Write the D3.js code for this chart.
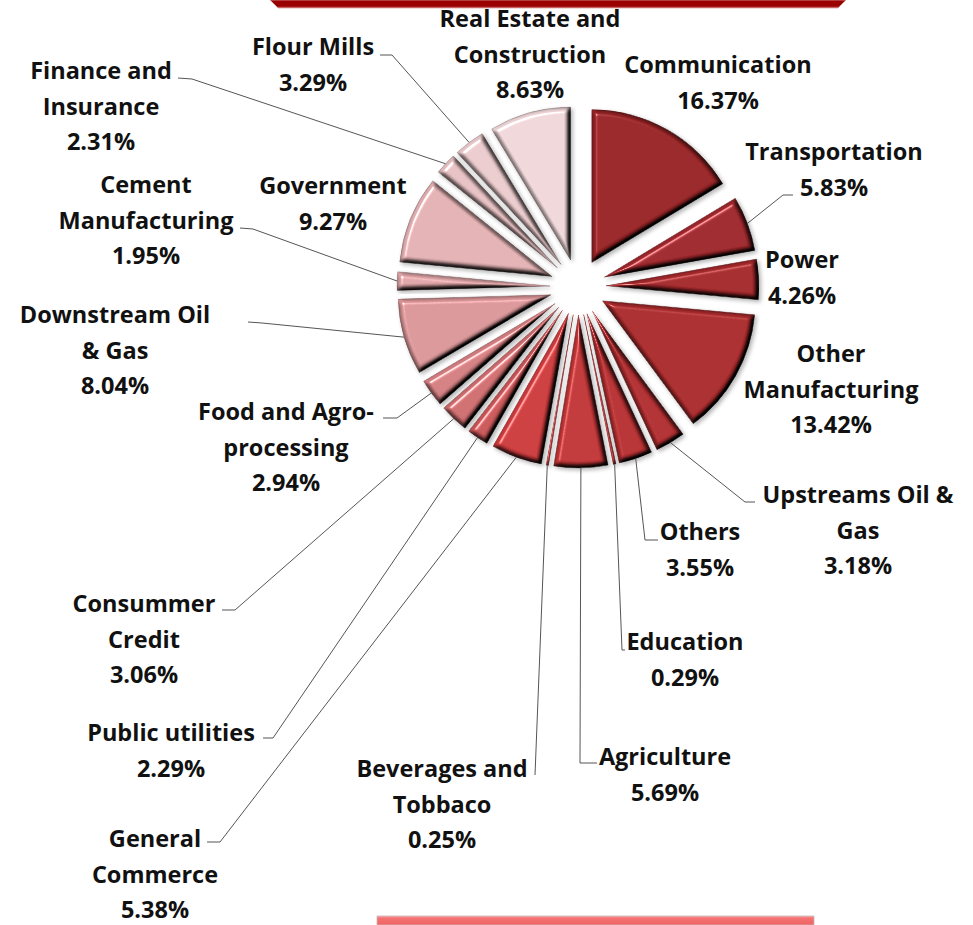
<!DOCTYPE html>
<html><head><meta charset="utf-8">
<script src="https://cdn.jsdelivr.net/npm/d3@7"></script>
<style>body{margin:0;background:#fff;overflow:hidden}</style>
</head><body>
<svg id="chart" width="973" height="925"></svg>
<script>
// ---- data ----
const categories = ["Communication","Transportation","Power","Other Manufacturing","Upstreams Oil & Gas","Others","Education","Agriculture","Beverages and Tobbaco","General Commerce","Public utilities","Consummer Credit","Food and Agro-processing","Downstream Oil & Gas","Cement Manufacturing","Government","Finance and Insurance","Flour Mills","Real Estate and Construction"];
const values = [16.37,5.83,4.26,13.42,3.18,3.55,0.29,5.69,0.25,5.38,2.29,3.06,2.94,8.04,1.95,9.27,2.31,3.29,8.63];
const labelLines = [["Communication"],["Transportation"],["Power"],["Other","Manufacturing"],["Upstreams Oil &","Gas"],["Others"],["Education"],["Agriculture"],["Beverages and","Tobbaco"],["General","Commerce"],["Public utilities"],["Consummer","Credit"],["Food and Agro-","processing"],["Downstream Oil","& Gas"],["Cement","Manufacturing"],["Government"],["Finance and","Insurance"],["Flour Mills"],["Real Estate and","Construction"]];

// ---- style / layout (kept apart from data) ----
const palette = ["#922224","#98252a","#9e272a","#a4292b","#ab2c2e","#b02e30","#b43032","#ba3335","#bf3638","#c5393b","#c35456","#c86a6c","#cc7a7c","#d39193","#d8a0a2","#dbabad","#e0bbbd","#e4c5c7","#e8d0d2"];
// label anchor: [centerX, firstBaselineY]
const labelPos = [[718,73],[834,160],[802,268],[831,362],[858,503],[700,540],[685,650],[665,765],[442,777],[155,847],[171,741],[144,612],[286,420],[115,323],[146,193],[333,194],[101,79],[313,55],[530,27]];
// leader: [elbowX, elbowY, endX, endY] or null
const leaders = [null,[783,195,793,195],null,null,[745,502,755,502],[645,540,658,540],[622,650,625,650],[580,763,597,763],[535,775,535,775],[220,842,207,842],[273,738,263,738],[235,610,222,610],[397,418,383,418],[262,323,248,322],[253,229,240,228],null,[192,79,178,78],[392,55,380,55],null];

const W = 973, H = 925;
const cx = 578, cy = 287, R = 153, explode = 28, lineH = 35.5;

const svg = d3.select("#chart");
const defs = svg.append("defs");

// bevel filter
const f = defs.append("filter").attr("id","bevel").attr("x","-15%").attr("y","-15%").attr("width","130%").attr("height","130%").attr("color-interpolation-filters","sRGB");
f.append("feGaussianBlur").attr("in","SourceAlpha").attr("stdDeviation",2.8).attr("result","blur");
const dl = f.append("feDiffuseLighting").attr("in","blur").attr("surfaceScale",7).attr("diffuseConstant",1.16).attr("lighting-color","#fff").attr("result","diff");
dl.append("feDistantLight").attr("azimuth",225).attr("elevation",60);
f.append("feComposite").attr("in","SourceGraphic").attr("in2","diff").attr("operator","arithmetic").attr("k1",1).attr("k2",0).attr("k3",0).attr("k4",0).attr("result","shaded");
const sl = f.append("feSpecularLighting").attr("in","blur").attr("surfaceScale",7).attr("specularConstant",0.55).attr("specularExponent",35).attr("lighting-color","#fff").attr("result","spec");
sl.append("feDistantLight").attr("azimuth",225).attr("elevation",45);
f.append("feComposite").attr("in","spec").attr("in2","SourceAlpha").attr("operator","in").attr("result","specIn");
f.append("feComposite").attr("in","shaded").attr("in2","specIn").attr("operator","arithmetic").attr("k1",0).attr("k2",1).attr("k3",1).attr("k4",0).attr("result","lit");
f.append("feComposite").attr("in","lit").attr("in2","SourceAlpha").attr("operator","in").attr("result","final");
f.append("feGaussianBlur").attr("in","SourceAlpha").attr("stdDeviation",2).attr("result","sb");
f.append("feOffset").attr("in","sb").attr("dx",1.5).attr("dy",2).attr("result","so");
const ct = f.append("feComponentTransfer").attr("in","so").attr("result","shadow");
ct.append("feFuncA").attr("type","linear").attr("slope",0.3);
const fm = f.append("feMerge");
fm.append("feMergeNode").attr("in","shadow");
fm.append("feMergeNode").attr("in","final");

// decorative bars (title boxes cut off by frame)
const gTop = defs.append("linearGradient").attr("id","gTop").attr("x1",0).attr("y1",0).attr("x2",0).attr("y2",1);
gTop.append("stop").attr("offset","0%").attr("stop-color","#9a0000");
gTop.append("stop").attr("offset","75%").attr("stop-color","#9a0000");
gTop.append("stop").attr("offset","100%").attr("stop-color","#c85050");
svg.append("path").attr("d","M270,0 L846,0 L838,8 L278,8 Z").attr("fill","url(#gTop)").attr("stroke","#d8a0a0").attr("stroke-width",0.8);

const gBot = defs.append("linearGradient").attr("id","gBot").attr("x1",0).attr("y1",0).attr("x2",0).attr("y2",1);
gBot.append("stop").attr("offset","0%").attr("stop-color","#f9a3a3");
gBot.append("stop").attr("offset","25%").attr("stop-color","#f47272");
gBot.append("stop").attr("offset","100%").attr("stop-color","#f06464");
svg.append("path").attr("d","M377,916 L814,916 L814,925 L377,925 Z").attr("fill","url(#gBot)").attr("stroke","#c8b8b8").attr("stroke-width",0.8);

// pie
const data = categories.map((c,i)=>({name:c, value:values[i], i}));
const pie = d3.pie().value(d=>d.value).sort(null).startAngle(0).endAngle(2*Math.PI);
const arcs = pie(data);
const arc = d3.arc().innerRadius(0).outerRadius(R);

const gPie = svg.append("g").attr("transform",`translate(${cx},${cy})`);
const mid = a => (a.startAngle + a.endAngle)/2;

// leader lines
const gLead = svg.append("g").attr("fill","none").attr("stroke","#555").attr("stroke-width",1);
arcs.forEach((a,i)=>{
  const L = leaders[i];
  if(!L) return;
  const m = mid(a);
  const dd = R + explode;
  const sx = cx + dd*Math.sin(m), sy = cy - dd*Math.cos(m);
  gLead.append("path").attr("d",`M${sx},${sy} L${L[0]},${L[1]} L${L[2]},${L[3]}`);
});

gPie.selectAll("path.slice").data(arcs).join("path")
  .attr("class","slice")
  .attr("d",arc)
  .attr("transform",a=>{const m=mid(a);return `translate(${explode*Math.sin(m)},${-explode*Math.cos(m)})`;})
  .attr("fill",(a,i)=>palette[i])
  .attr("stroke",(a,i)=>d3.color(palette[i]).darker(1))
  .attr("stroke-width",0.7)
  .attr("filter","url(#bevel)");

// labels
const gLab = svg.append("g").attr("font-family","'Open Sans', Lato, sans-serif").attr("font-weight",700).attr("font-size",23.5).attr("fill","#111").attr("text-anchor","middle");
arcs.forEach((a,i)=>{
  const lines = labelLines[i].concat([values[i].toFixed(2)+"%"]);
  const t = gLab.append("text").attr("x",labelPos[i][0]).attr("y",labelPos[i][1]);
  lines.forEach((ln,k)=>{
    t.append("tspan").attr("x",labelPos[i][0]).attr("dy",k===0?0:lineH).text(ln);
  });
});
</script>
</body></html>
